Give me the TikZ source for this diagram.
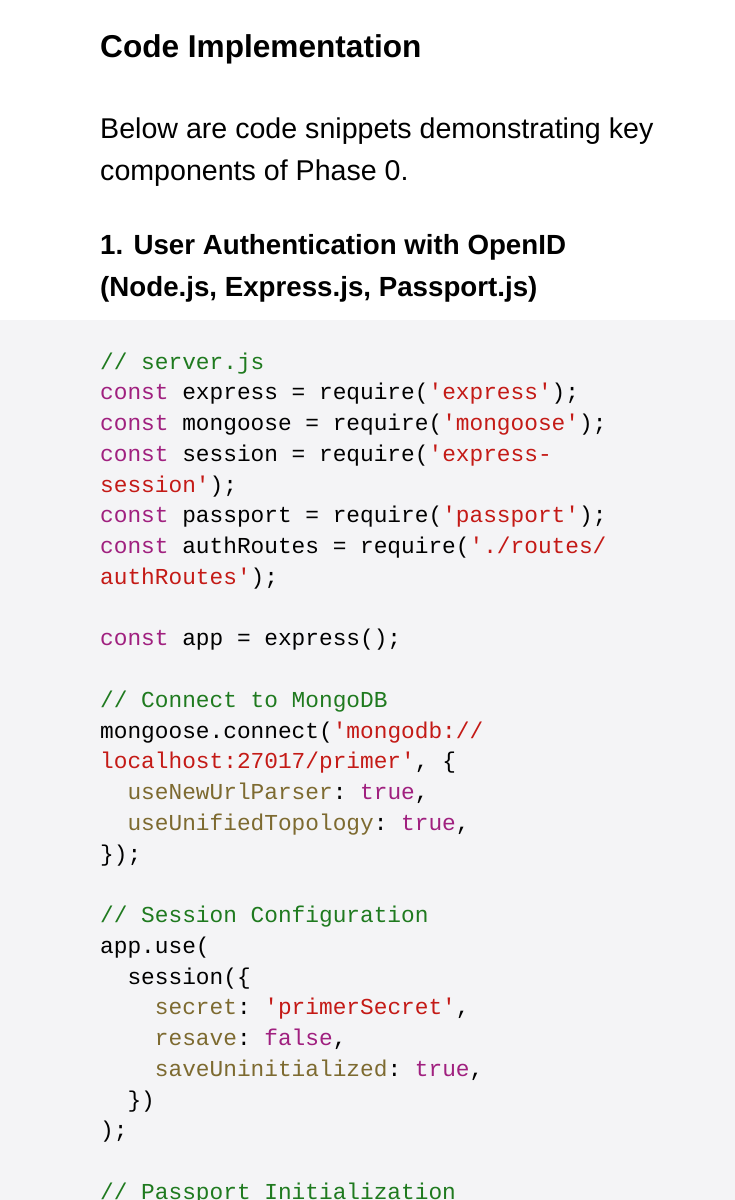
\documentclass[tikz,border=0pt]{standalone}
\usepackage{fontspec}
\setmainfont{Liberation Sans}
\setmonofont{Liberation Mono}
\definecolor{bgc}{HTML}{F4F4F6}
\definecolor{cm}{HTML}{1F7A1F}
\definecolor{kw}{HTML}{A0207F}
\definecolor{st}{HTML}{C41A16}
\definecolor{pr}{HTML}{7D6A30}
\newcommand{\K}[1]{\textcolor{kw}{#1}}
\newcommand{\Sg}[1]{\textcolor{st}{#1}}
\newcommand{\C}[1]{\textcolor{cm}{#1}}
\newcommand{\Pp}[1]{\textcolor{pr}{#1}}
\begin{document}
\begin{tikzpicture}[x=1pt,y=1pt,
  code/.style={anchor=base west,inner sep=0pt,font=\fontsize{22.8}{26}\ttfamily},
  txt/.style={anchor=base west,inner sep=0pt,font=\fontsize{28.6}{32}\selectfont},
  hd/.style={anchor=base west,inner sep=0pt,font=\fontsize{31.6}{36}\bfseries}]
\clip (0,0) rectangle (735,-1200);
\useasboundingbox (0,0) rectangle (735,-1200);
\fill[white] (0,0) rectangle (735,-1200);
\fill[bgc] (0,-320) rectangle (735,-1200);
\node[hd] (h1) at (100,-57) {Code Implementation};
\node[txt] (t1) at (100,-138) {Below are code snippets demonstrating key};
\node[txt] (t2) at (100,-180) {components of Phase 0.};
\node[hd,font=\fontsize{27.7}{32}\bfseries] (h2) at (100,-254) {1. User Authentication with OpenID};
\node[hd,font=\fontsize{27.7}{32}\bfseries] (h3) at (100,-296) {(Node.js, Express.js, Passport.js)};
\foreach \i/\t in {
0/{\C{// server.js}},
1/{\K{const} express = require(\Sg{'express'});},
2/{\K{const} mongoose = require(\Sg{'mongoose'});},
3/{\K{const} session = require(\Sg{'express-}},
4/{\Sg{session'});},
5/{\K{const} passport = require(\Sg{'passport'});},
6/{\K{const} authRoutes = require(\Sg{'./routes/}},
7/{\Sg{authRoutes'});},
9/{\K{const} app = express();},
11/{\C{// Connect to MongoDB}},
12/{mongoose.connect(\Sg{'mongodb://}},
13/{\Sg{localhost:27017/primer'}, \{},
14/{\ \ \Pp{useNewUrlParser}: \K{true},},
15/{\ \ \Pp{useUnifiedTopology}: \K{true},},
16/{\});},
18/{\C{// Session Configuration}},
19/{app.use(},
20/{\ \ session(\{},
21/{\ \ \ \ \Pp{secret}: \Sg{'primerSecret'},},
22/{\ \ \ \ \Pp{resave}: \K{false},},
23/{\ \ \ \ \Pp{saveUninitialized}: \K{true},},
24/{\ \ \})},
25/{);},
27/{\C{// Passport Initialization}}}
{\node[code] (c\i) at (100,{-369-30.75*\i}) {\t};}
\end{tikzpicture}
\end{document}
